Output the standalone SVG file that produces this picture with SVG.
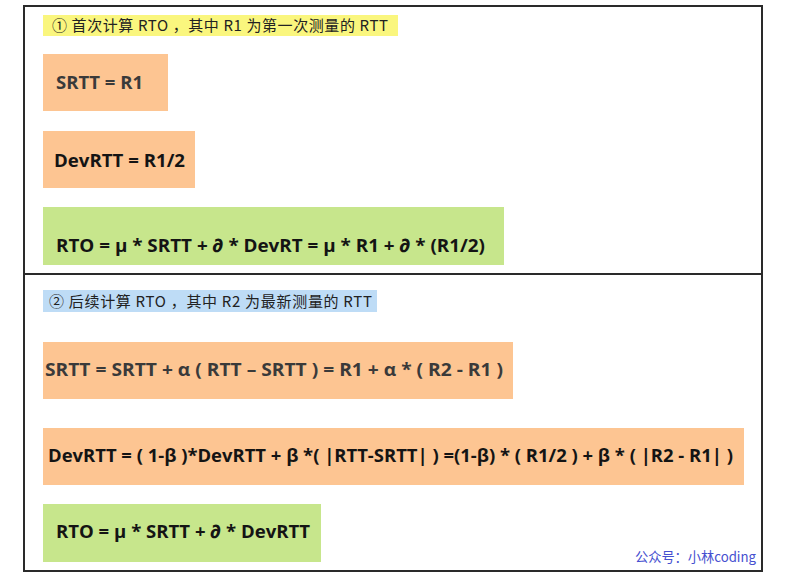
<svg xmlns="http://www.w3.org/2000/svg" width="787" height="583" viewBox="0 0 787 583">
<style>
.orange{fill:#FDC592;}
.green{fill:#C7E68C;}
.f{font-family:"Open Sans","Noto Sans","Noto Sans CJK SC",sans-serif;font-weight:bold;font-size:18.5px;fill:#141414;}
.g{fill:#3a3a3a;}
.lbl{font-family:"Noto Sans CJK SC","Noto Sans",sans-serif;font-size:15px;fill:#222;}
.wm{font-family:"Noto Sans CJK SC","Noto Sans",sans-serif;font-size:13.5px;fill:#4650D0;}
</style>
<rect x="0" y="0" width="787" height="583" fill="#fff"/>
<g id="frame">
<rect x="24" y="6" width="738" height="565" fill="none" stroke="#2a2a2a" stroke-width="2"/>
<line x1="24" y1="274" x2="762" y2="274" stroke="#2a2a2a" stroke-width="2"/>
</g>
<g id="label1">
<rect x="43" y="15" width="355" height="21" fill="#FAF67E"/>
<text class="lbl" x="52" y="31" textLength="336" lengthAdjust="spacing">① 首次计算 RTO ，其中 R1 为第一次测量的 RTT</text>
</g>
<g id="srtt1">
<rect class="orange" x="43" y="54" width="125" height="57"/>
<text class="f g" x="56" y="89" textLength="87" lengthAdjust="spacingAndGlyphs">SRTT = R1</text>
</g>
<g id="devrtt1">
<rect class="orange" x="43" y="131" width="152" height="57"/>
<text class="f" x="54" y="167" textLength="131" lengthAdjust="spacingAndGlyphs">DevRTT = R1/2</text>
</g>
<g id="rto1">
<rect class="green" x="43" y="207" width="461" height="58"/>
<text class="f" x="56" y="252" textLength="429" lengthAdjust="spacingAndGlyphs">RTO = μ * SRTT + ∂ * DevRT = μ * R1 +  ∂ * (R1/2)</text>
</g>
<g id="label2">
<rect x="43" y="290" width="334" height="22" fill="#BEDCF6"/>
<text class="lbl" x="49" y="307" textLength="323" lengthAdjust="spacing">② 后续计算 RTO ，其中 R2 为最新测量的 RTT</text>
</g>
<g id="srtt2">
<rect class="orange" x="43" y="342" width="470" height="57"/>
<text class="f g" x="45" y="376" textLength="458" lengthAdjust="spacingAndGlyphs">SRTT = SRTT + α ( RTT – SRTT ) = R1 + α * ( R2 - R1 )</text>
</g>
<g id="devrtt2">
<rect class="orange" x="43" y="428" width="701" height="57"/>
<text class="f" x="48" y="462" textLength="685" lengthAdjust="spacingAndGlyphs">DevRTT = ( 1-β )*DevRTT + β *( |RTT-SRTT| ) =(1-β) * ( R1/2 ) + β * ( |R2 - R1| )</text>
</g>
<g id="rto2">
<rect class="green" x="43" y="504" width="278" height="58"/>
<text class="f" x="56" y="538" textLength="254" lengthAdjust="spacingAndGlyphs">RTO = μ * SRTT + ∂ * DevRTT</text>
</g>
<g id="connectors"></g>
<text class="wm" x="635" y="562" textLength="121" lengthAdjust="spacingAndGlyphs">公众号：小林coding</text>
</svg>
